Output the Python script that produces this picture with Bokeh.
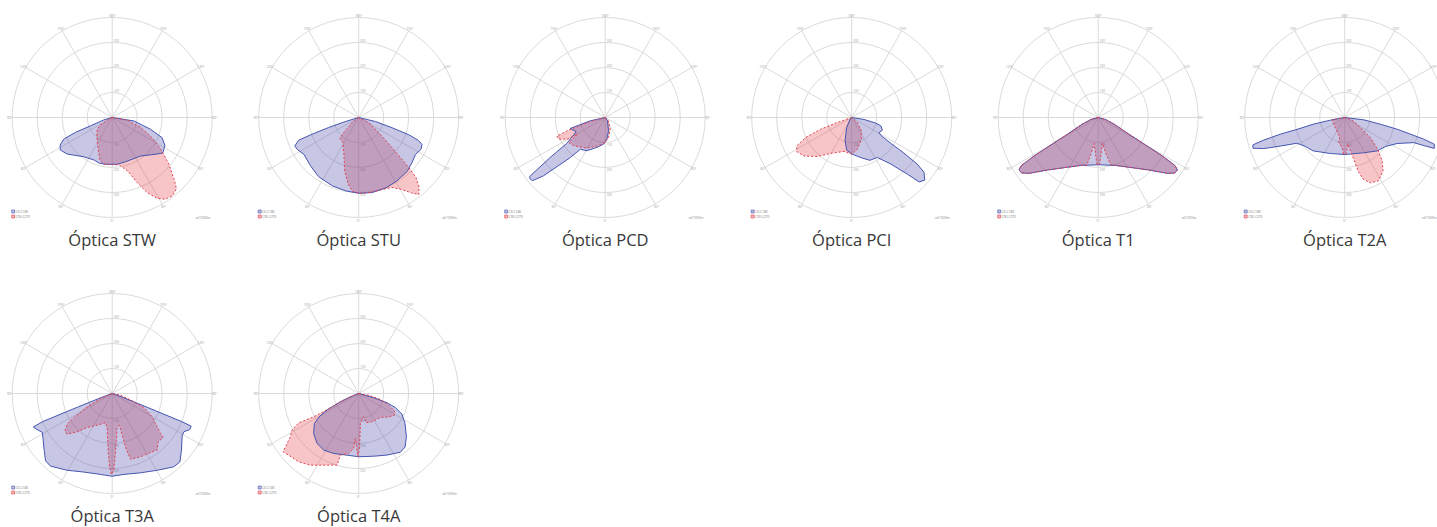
import numpy as np
from bokeh.plotting import figure
from bokeh.models import Range1d
from bokeh.embed import file_html
from bokeh.resources import INLINE
from bokeh.core.properties import value

# ---------------- data ----------------
TITLES = ["Óptica STW", "Óptica STU", "Óptica PCD", "Óptica PCI",
          "Óptica T1", "Óptica T2A", "Óptica T3A", "Óptica T4A"]
LEGEND_LABELS = ["C0-C180", "C90-C270"]
UNIT_LABEL = "cd/1000lm"
ANGLE_TICKS = [0, 30, 60, 90, 120, 150, 180]
RING_VALUES = [100, 200, 300, 400]

# gamma angle (deg, 0 = nadir, + = right side) and intensity (cd/klm)
STW_C0_ANG = [-90, -74, -69, -68, -66, -62, -58, -51, -36, -23, -16, -8, 6, 17, 36, 51, 55, 62, 68, 73, 81, 90]
STW_C0_VAL = [0, 35, 93, 158, 212, 236, 245, 232, 194, 185, 190, 189, 188, 185, 191, 232, 247, 239, 215, 160, 88, 0]
STW_C90_ANG = [-90, -70, -58, -52, -40, -24, -16, -10, 0, 8, 16, 21, 25, 29, 33, 37.5, 42, 45, 50.5, 57, 63, 71, 80, 90]
STW_C90_VAL = [0, 8, 55, 76, 96, 139, 178, 190, 189, 191, 222, 279, 331, 369, 390, 395, 384, 351, 294, 231, 179, 120, 61, 0]

STU_C0_ANG = [-90, -73, -71.6, -70.3, -69.3, -66, -62, -56, -45, -34, -21, -10, 0, 10, 21, 31, 42, 50, 57, 63, 67, 69, 71, 73, 76.5, 90]
STU_C0_VAL = [0, 56, 127, 198, 256, 280, 276, 264, 273, 286, 293, 298, 303, 305, 302, 296, 290, 279, 271, 280, 275, 256, 212, 139, 69, 0]
STU_C90_ANG = [-90, -60, -53, -45, -42.6, -32.6, -22, -14.7, -9, -4.6, 1.3, 10, 18, 25.5, 31, 35, 38, 41, 43.7, 45, 48, 53, 63, 90]
STU_C90_VAL = [0, 10, 33, 85, 112, 119, 158, 221, 270, 297, 304, 303, 303, 310, 336, 369, 391, 368, 332, 283, 179, 100, 45, 0]

PCD_C0_ANG = [-90, -77.5, -72.6, -64, -56, -54, -52, -50.6, -49, -46.6, -41, -38, -29, -15.5, -3.6, 4.4, 14, 35, 90]
PCD_C0_VAL = [0, 61, 147, 129, 185, 272, 384, 388, 385, 339, 212, 161, 152, 124, 107, 87, 55, 16, 0]
PCD_C90_ANG = [-90, -75, -71, -69, -65, -60, -59, -55.7, -48, -31, -16, 0, 9.5, 23, 45, 90]
PCD_C90_VAL = [0, 62, 155, 207, 205, 173, 129, 177, 169, 143, 119, 100, 81, 51, 19, 0]

PCI_C0_ANG = [-90, -45, -26.6, -16, -8.7, 1, 14.7, 23, 32.7, 40, 44.5, 46.3, 49.4, 52.8, 54.6, 55.7, 56.6, 58.3, 61, 67.6, 74, 77, 81, 90]
PCI_C0_VAL = [0, 9, 45, 97, 132, 147, 168, 186, 190, 243, 318, 373, 385, 363, 322, 253, 187, 139, 125, 133, 121, 99, 50, 0]
PCI_C90_ANG = [-90, -71, -69.4, -66.5, -62.7, -58.3, -51, -41.4, -28.5, -12.7, 0, 10, 24, 36, 48.6, 90]
PCI_C90_VAL = [0, 61, 133, 201, 247, 259, 245, 208, 162, 139, 147, 129, 95, 66, 30, 0]

T1_C0_ANG = [-90, -75, -67, -61.5, -60, -59, -58, -56.5, -54, -51, -44, -34, -20, 0, 20, 34, 44, 51, 54, 56.5, 58, 59, 60, 61.5, 67, 75, 90]
T1_C0_VAL = [0, 30, 72, 140, 210, 300, 362, 380, 378, 355, 292, 242, 204, 189, 204, 242, 292, 355, 378, 380, 362, 300, 210, 140, 72, 30, 0]
T1_C90_ANG = [-90, -75, -67, -61.5, -60, -59, -58, -56.5, -54, -51, -44, -34, -20, -13.5, -11.3, -8.7, -4.2, -1.5, 0, 1.5, 4.5, 9.5, 12, 15, 20, 34, 44, 51, 54, 56.5, 58, 59, 60, 61.5, 67, 75, 90]
T1_C90_VAL = [0, 30, 72, 140, 210, 300, 362, 380, 378, 355, 292, 242, 204, 196, 150, 105, 147, 188, 189, 188, 147, 105, 150, 198, 204, 242, 292, 355, 378, 380, 362, 300, 210, 140, 72, 30, 0]

T2A_C0_ANG = [-90, -79.5, -78, -76, -75.5, -74.4, -73.4, -71.5, -69, -66, -61.7, -53.6, -43.5, -21.7, 0, 28, 44, 54.5, 63.6, 70, 70.6, 71, 73.4, 74.7, 75.8, 77.4, 79.4, 83, 90]
T2A_C0_VAL = [0, 58, 127, 196, 266, 336, 383, 387, 347, 281, 217, 195, 184, 155, 148, 160, 186, 200, 234, 294, 349, 379, 374, 328, 271, 215, 145, 77, 0]
T2A_C90_ANG = [-90, -80, -59, -33, -14, -13.5, -5, -1.6, 2.7, 6.4, 10.3, 12.6, 14, 16.6, 21.4, 28.2, 35.7, 41.2, 46.5, 52, 57.5, 72, 90]
T2A_C90_VAL = [0, 51, 51, 61, 82, 103, 121, 147, 144, 107, 142, 178, 220, 257, 281, 287, 263, 227, 178, 130, 74, 31, 0]

T3A_C0_ANG = [-90, -70, -68.5, -68, -67, -64.4, -61, -57, -50, -44.7, -40.3, -30.4, -19.8, -8.2, 0, 8.2, 19.7, 30.4, 40, 44.7, 50.7, 58.8, 62, 65, 67.5, 68, 68.5, 70, 90]
T3A_C0_VAL = [0, 40, 150, 300, 343, 333, 320, 330, 355, 379, 381, 356, 334, 327, 331, 327, 337, 356, 383, 385, 358, 327, 325, 342, 342, 300, 150, 40, 0]
T3A_C90_ANG = [-90, -67, -62, -58, -56, -51.7, -48, -42.4, -36.3, -23, -12.8, -8.1, -4.6, -2.1, -0.5, 1.2, 3.4, 8.1, 12.5, 13.5, 14, 15.6, 24, 34.4, 38.5, 43.6, 49.2, 50.4, 53.5, 59.7, 66, 70, 78.7, 90]
T3A_C90_VAL = [0, 51, 113, 177, 216, 241, 243, 208, 169, 136, 120, 141, 214, 293, 324, 307, 227, 141, 130, 172, 226, 273, 277, 283, 289, 267, 269, 251, 224, 185, 139, 85, 34, 0]

T4A_C0_ANG = [-90, -68, -65.6, -62.7, -59.8, -56, -48.4, -39.8, -31.7, -22.6, -10.7, 0, 13.5, 24.7, 35.4, 41, 47.7, 57, 64.5, 69, 72, 74, 90]
T4A_C0_VAL = [0, 36, 81, 140, 180, 214, 241, 260, 266, 260, 251, 253, 258, 271, 288, 283, 258, 221, 192, 157, 119, 62, 0]
T4A_C90_ANG = [-90, -68, -65.6, -63, -62.6, -63.9, -61.2, -57.6, -52.4, -48.6, -41.3, -34, -16.8, -16.6, -9.5, -5.2, -4.2, -1.6, -0.6, 1.1, 3.2, 12, 14.6, 25, 42, 52, 58.7, 64, 68.7, 74.5, 80.5, 90]
T4A_C90_VAL = [0, 36, 81, 140, 203, 267, 305, 324, 382, 373, 364, 346, 299, 257, 243, 221, 181, 233, 253, 207, 120, 95, 121, 125, 129, 152, 167, 159, 129, 90, 41, 0]

PANELS = [
    (STW_C0_ANG, STW_C0_VAL, STW_C90_ANG, STW_C90_VAL),
    (STU_C0_ANG, STU_C0_VAL, STU_C90_ANG, STU_C90_VAL),
    (PCD_C0_ANG, PCD_C0_VAL, PCD_C90_ANG, PCD_C90_VAL),
    (PCI_C0_ANG, PCI_C0_VAL, PCI_C90_ANG, PCI_C90_VAL),
    (T1_C0_ANG, T1_C0_VAL, T1_C90_ANG, T1_C90_VAL),
    (T2A_C0_ANG, T2A_C0_VAL, T2A_C90_ANG, T2A_C90_VAL),
    (T3A_C0_ANG, T3A_C0_VAL, T3A_C90_ANG, T3A_C90_VAL),
    (T4A_C0_ANG, T4A_C0_VAL, T4A_C90_ANG, T4A_C90_VAL),
]

# ---------------- styling / layout ----------------
W, H = 1437, 527
SCALE = 0.25          # px per cd/klm
X0, DX = 111.7, 246.5
Y0, DY = 117, 276
BLUE_FILL, BLUE_LINE = "#4b4baa", "#4656b0"
RED_FILL, RED_LINE = "#e63a46", "#e0404e"
GRID = "#d6d6d6"
FONT = value("Open Sans")

p = figure(width=W, height=H, output_backend="svg", toolbar_location=None,
           x_range=Range1d(0, W), y_range=Range1d(H, 0),
           x_axis_location=None, y_axis_location=None, min_border=0)
p.grid.visible = False
p.outline_line_color = None
p.background_fill_color = "white"


def polar_xy(cx, cy, ang, val):
    t = np.radians(np.asarray(ang, dtype=float))
    r = np.asarray(val, dtype=float) * SCALE
    return cx + r * np.sin(t), cy + r * np.cos(t)


for i, (a0, v0, a90, v90) in enumerate(PANELS):
    row, col = divmod(i, 6)
    cx = X0 + DX * col
    cy = Y0 + DY * row
    rmax = RING_VALUES[-1] * SCALE

    # grid: rings and spokes
    p.circle(x=[cx] * len(RING_VALUES), y=[cy] * len(RING_VALUES),
             radius=[v * SCALE for v in RING_VALUES],
             fill_color=None, line_color=GRID, line_width=0.9)
    sp = np.radians(np.arange(0, 180, 30))
    p.segment(x0=cx - rmax * np.sin(sp), y0=cy - rmax * np.cos(sp),
              x1=cx + rmax * np.sin(sp), y1=cy + rmax * np.cos(sp),
              line_color=GRID, line_width=0.9)

    # angle labels (only those that fall inside the page)
    lx, ly, lt = [], [], []
    for a in ANGLE_TICKS:
        for s in ([1] if a in (0, 180) else [1, -1]):
            x, y = polar_xy(cx, cy, [s * a], [(rmax + 2.5) / SCALE])
            if x[0] + 4 < W and x[0] - 4 > 0:
                lx.append(x[0]); ly.append(y[0]); lt.append(f"{a}°")
    p.text(x=lx, y=ly, text=lt, text_font=FONT, text_font_size="3.5px",
           text_color="#9a9a9a", text_align="center", text_baseline="middle")

    # ring labels
    rx, ry, rt = [], [], []
    for v in RING_VALUES[:-1]:
        rx += [cx + 1.5, cx + 1.5]
        ry += [cy - v * SCALE - 2, cy + v * SCALE + 2]
        rt += [str(v), str(v)]
    p.text(x=rx, y=ry, text=rt, text_font=FONT, text_font_size="3px",
           text_color="#a0a0a0", text_align="left", text_baseline="middle")

    # data
    bx, by = polar_xy(cx, cy, a0, v0)
    rx_, ry_ = polar_xy(cx, cy, a90, v90)
    p.patch(rx_, ry_, fill_color=RED_FILL, fill_alpha=0.3, line_color=None)
    p.patch(bx, by, fill_color=BLUE_FILL, fill_alpha=0.31, line_color=None)
    p.line(np.append(bx, bx[0]), np.append(by, by[0]), line_color=BLUE_LINE, line_width=1.0)
    p.line(np.append(rx_, rx_[0]), np.append(ry_, ry_[0]), line_color=RED_LINE,
           line_width=1.0, line_dash="2 2")

    # legend
    p.rect(x=[cx - 99, cx - 99], y=[cy + 94, cy + 99], width=3, height=3,
           fill_color=[BLUE_FILL, RED_FILL], fill_alpha=0.35,
           line_color=[BLUE_LINE, RED_LINE], line_width=0.6)
    p.text(x=[cx - 96.5, cx - 96.5], y=[cy + 94, cy + 99], text=LEGEND_LABELS,
           text_font=FONT, text_font_size="3.2px", text_color="#777777",
           text_align="left", text_baseline="middle")
    ux = min(cx + 98, W - 1)
    p.text(x=[ux], y=[cy + 100], text=[UNIT_LABEL], text_font=FONT,
           text_font_size="3px", text_color="#888888",
           text_align="right", text_baseline="middle")

    # caption
    p.text(x=[cx], y=[cy + 122], text=[TITLES[i]], text_font=FONT,
           text_font_size="16.5px", text_color="#383838",
           text_align="center", text_baseline="middle")

open("out.html", "w").write(file_html(p, INLINE))
